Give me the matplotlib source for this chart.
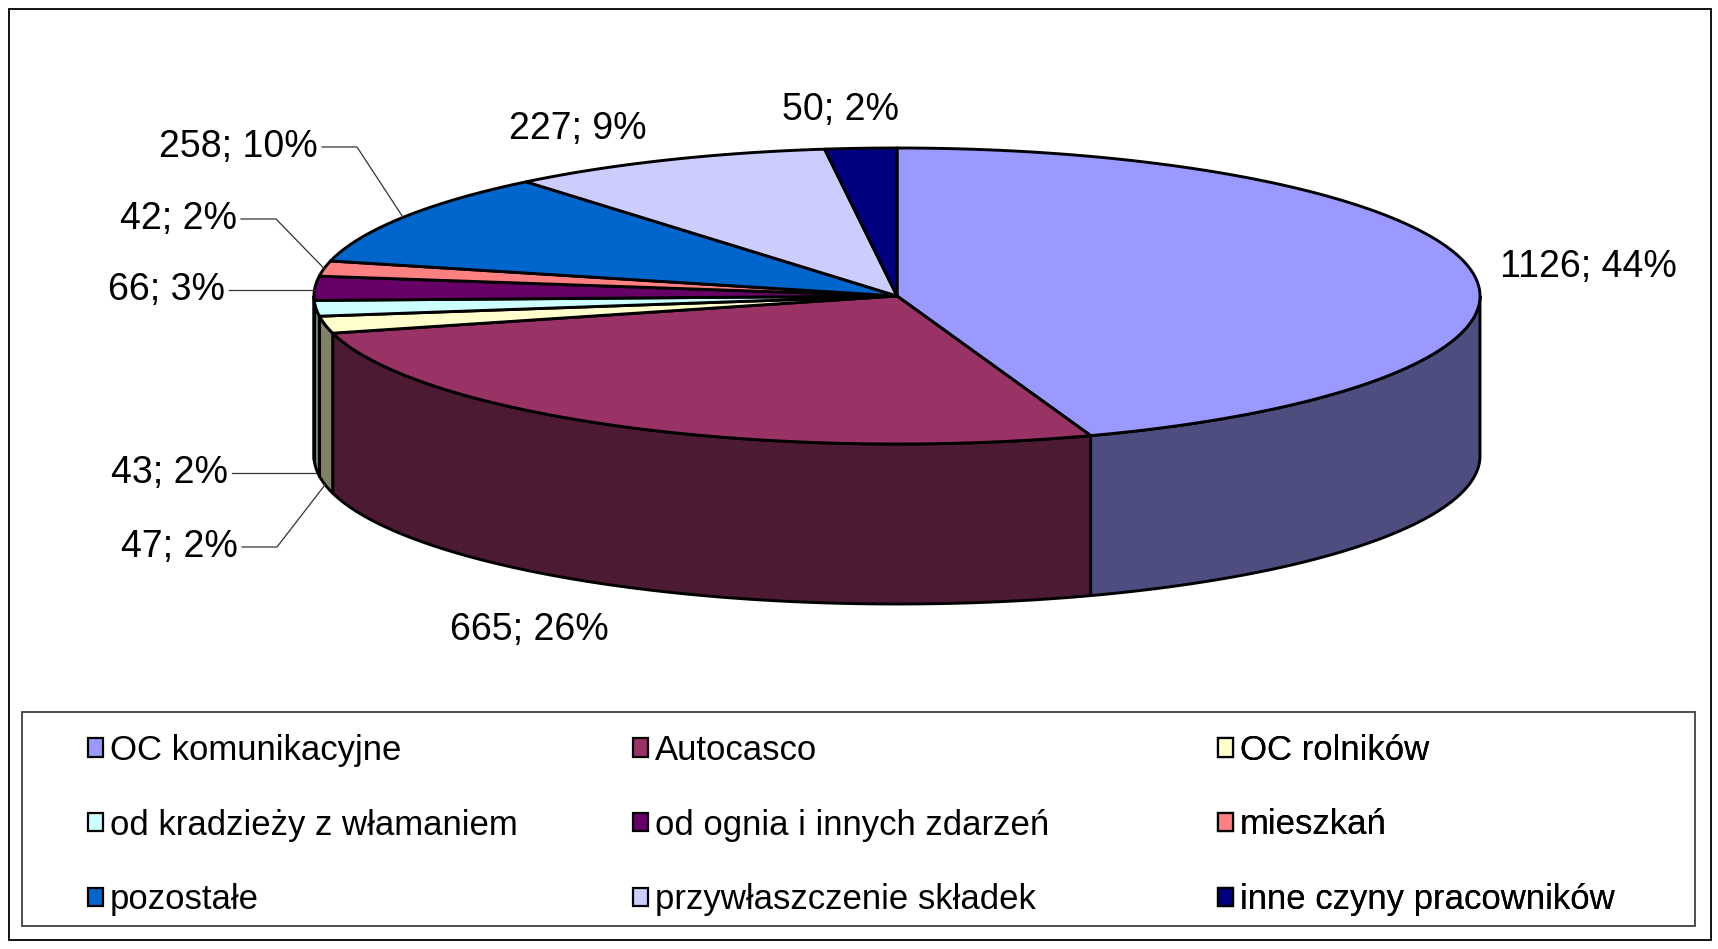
import matplotlib
matplotlib.use('Agg')
import matplotlib.pyplot as plt
from matplotlib.patches import Polygon, Rectangle
import numpy as np

plt.rcParams['font.family'] = ['Liberation Sans', 'DejaVu Sans']

# --- Data --- #
categories = ['OC komunikacyjne', 'Autocasco', 'OC rolników',
              'od kradzieży z włamaniem', 'od ognia i innych zdarzeń',
              'mieszkań', 'pozostałe', 'przywłaszczenie składek',
              'inne czyny pracowników']
values = [1126, 665, 47, 43, 66, 42, 258, 227, 50]
percent_labels = ['44%', '26%', '2%', '2%', '3%', '2%', '10%', '9%', '2%']

# --- Styles --- #
top_colors = ['#9999FF', '#993366', '#FFFFCC', '#CCFFFF', '#660066',
              '#FF8080', '#0066CC', '#CCCCFF', '#000080']
# side walls are the top colour at half brightness (Excel 3D pie look)
side_colors = [tuple(0.5 * np.array(matplotlib.colors.to_rgb(c)))
               for c in top_colors]

# --- Layout (pixels, y down) --- #
W, H = 1718, 949
CX, CY = 897, 296      # centre of the top face
RX, RY = 583, 148      # semi axes of the top face
DEPTH = 160            # height of the pie wall
EDGE_LW = 2.1

# label placement: (x, y, horizontal alignment, draw leader line)
label_layout = [(1588, 267, 'center', False),
                (529, 630, 'center', False),
                (238, 547, 'right', True),
                (228, 473, 'right', True),
                (225, 290, 'right', True),
                (237, 219, 'right', True),
                (318, 147, 'right', True),
                (578, 129, 'center', False),
                (841, 110, 'center', False)]
legend_cols_x = [88, 633, 1218]
legend_mid_y = 825


def ellipse_points(t0, t1, dy=0.0, n=200):
    """ Points on the top ellipse from angle t0 to t1 (degrees). """
    t = np.radians(np.linspace(t0, t1, n))
    return np.column_stack([CX + RX * np.cos(t), CY - RY * np.sin(t) + dy])


fig = plt.figure(figsize=(W / 100, H / 100), dpi=100)
ax = fig.add_axes([0, 0, 1, 1])
ax.set_xlim(0, W)
ax.set_ylim(H, 0)
ax.axis('off')

# slice boundaries: start at 12 o'clock, go clockwise
total = sum(values)
bounds = 90 - 360 * np.concatenate([[0], np.cumsum(values)]) / total

# Walls - only the front half (angles between -180 and 0) is visible
for i in range(len(values)):
    t0 = min(bounds[i], 0)
    t1 = max(bounds[i + 1], -180)
    if t0 <= t1:
        continue
    top = ellipse_points(t0, t1)
    bottom = ellipse_points(t1, t0, DEPTH)
    ax.add_patch(Polygon(np.vstack([top, bottom]), closed=True,
                         fc=side_colors[i], ec='black', lw=EDGE_LW,
                         joinstyle='round'))

# Top faces
wedges = []
for i in range(len(values)):
    pts = np.vstack([[CX, CY], ellipse_points(bounds[i], bounds[i + 1])])
    wedge = Polygon(pts, closed=True, fc=top_colors[i], ec='black',
                    lw=EDGE_LW, joinstyle='round')
    ax.add_patch(wedge)
    wedges.append(wedge)

# Data labels with leader lines
for i, (lx, ly, ha, leader) in enumerate(label_layout):
    ax.text(lx, ly, f'{values[i]}; {percent_labels[i]}', ha=ha, va='center',
            fontsize=27)
    if not leader:
        continue
    mid = np.radians((bounds[i] + bounds[i + 1]) / 2)
    ax_x = CX + RX * np.cos(mid)
    ax_y = CY - RY * np.sin(mid)
    if np.sin(mid) < 0:
        ax_y += DEPTH
    if abs(ax_y - ly) < 15:
        xs, ys = [lx + 4, ax_x], [ly, ly]
    else:
        xs, ys = [lx + 4, lx + 39, ax_x], [ly, ly, ax_y]
    ax.plot(xs, ys, color='#333333', lw=0.9)

# Legend: three columns, row-major like the original
for c, x0 in enumerate(legend_cols_x):
    idx = [c, c + 3, c + 6]
    leg = ax.legend([wedges[i] for i in idx], [categories[i] for i in idx],
                    loc='center left', bbox_to_anchor=(x0, legend_mid_y),
                    bbox_transform=ax.transData, frameon=False, fontsize=25,
                    handlelength=0.43, handleheight=0.43, handletextpad=0.2,
                    labelspacing=1.2, borderpad=0, borderaxespad=0)
    for h in leg.legend_handles:
        h.set_linewidth(1.6)
    ax.add_artist(leg)

# legend box and chart frame
ax.add_patch(Rectangle((22, 712), 1673, 214, fill=False, ec='#404040',
                       lw=1.3))
ax.add_patch(Rectangle((9, 9), 1702, 931, fill=False, ec='black', lw=1.3))

fig.savefig('out.png', dpi=100)
